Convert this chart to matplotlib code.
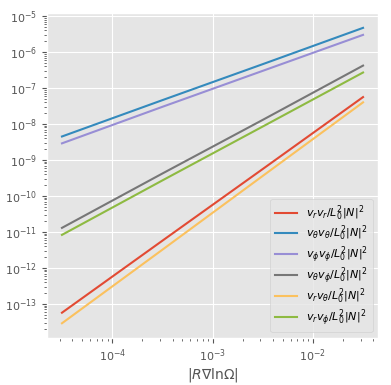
import numpy as np
import matplotlib
matplotlib.use("Agg")
import matplotlib.pyplot as plt

plt.style.use("ggplot")

# gradient magnitude |R grad ln Omega|
grad = [3.16e-5, 3.16e-4, 3.16e-3, 3.16e-2]

# normalised velocity correlations
v_rr = [5.7e-14, 5.7e-12, 5.6e-10, 5.6e-8]
v_tt = [4.5e-9, 4.6e-8, 4.6e-7, 4.7e-6]
v_pp = [2.9e-9, 3.0e-8, 3.0e-7, 3.0e-6]
v_tp = [1.3e-11, 4.2e-10, 1.3e-8, 4.2e-7]
v_rt = [2.9e-14, 3.2e-12, 3.6e-10, 4.0e-8]
v_rp = [8.3e-12, 2.7e-10, 8.5e-9, 2.7e-7]

labels = [r"$v_rv_r/L_0^2|N|^2$",
          r"$v_\theta v_\theta/L_0^2|N|^2$",
          r"$v_\phi v_\phi/L_0^2|N|^2$",
          r"$v_\theta v_\phi/L_0^2|N|^2$",
          r"$v_rv_\theta/L_0^2|N|^2$",
          r"$v_rv_\phi/L_0^2|N|^2$"]

fig = plt.figure(figsize=(3.91, 3.85), dpi=100)
ax = fig.add_axes([0.12, 0.122, 0.847, 0.844])

for vals, lab in zip([v_rr, v_tt, v_pp, v_tp, v_rt, v_rp], labels):
    ax.loglog(grad, vals, label=lab, lw=1.5)

ax.set_xlabel(r"$|R\nabla\mathrm{ln}\Omega|$", fontsize=10, labelpad=1)
ax.tick_params(labelsize=8)
ax.legend(loc="lower right", fontsize=8, labelspacing=0.05)

fig.savefig("out.png")
